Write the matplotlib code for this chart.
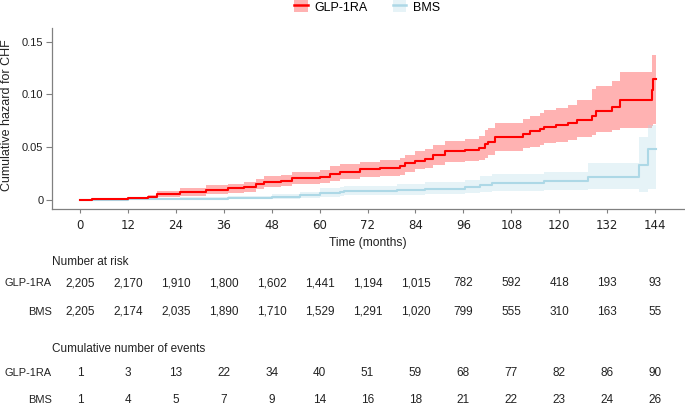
import matplotlib
matplotlib.use('Agg')

import matplotlib.pyplot as plt
from matplotlib.patches import Patch
from matplotlib.lines import Line2D
from matplotlib.transforms import blended_transform_factory

plt.rcParams['font.family'] = ['Liberation Sans', 'DejaVu Sans']

# step curves: time (months), hazard, lower and upper CI
glp_t = [0, 3, 12, 17, 19.3, 25, 31.6, 37, 41, 44, 46, 50.4, 53, 60, 62.5, 65,
         70, 75, 80, 81.3, 84, 86.3, 88.3, 91.3, 96.3, 100, 101.4, 102.2, 103.9,
         111, 112.6, 115.2, 116.2, 119.3, 122.3, 124.4, 128.1, 129.2, 133.1,
         135.2, 143.2, 143.6, 144.3]
glp_h = [0, 0.0005, 0.0015, 0.003, 0.006, 0.0075, 0.0095, 0.011, 0.0125, 0.015,
         0.017, 0.018, 0.0205, 0.022, 0.025, 0.027, 0.029, 0.030, 0.032, 0.035,
         0.037, 0.039, 0.0425, 0.046, 0.047, 0.049, 0.053, 0.055, 0.060, 0.063,
         0.065, 0.067, 0.069, 0.071, 0.073, 0.076, 0.080, 0.084, 0.0885, 0.095,
         0.104, 0.115, 0.115]
glp_lo = [0, 0.0001, 0.0004, 0.001, 0.003, 0.004, 0.006, 0.007, 0.008, 0.010,
          0.012, 0.013, 0.015, 0.016, 0.018, 0.020, 0.022, 0.023, 0.024, 0.027,
          0.029, 0.030, 0.033, 0.036, 0.037, 0.038, 0.040, 0.043, 0.046, 0.049,
          0.050, 0.052, 0.054, 0.055, 0.057, 0.060, 0.062, 0.064, 0.066, 0.068,
          0.070, 0.072, 0.072]
glp_hi = [0, 0.002, 0.003, 0.005, 0.009, 0.011, 0.014, 0.015, 0.017, 0.020,
          0.023, 0.024, 0.027, 0.028, 0.032, 0.034, 0.036, 0.038, 0.040, 0.043,
          0.046, 0.048, 0.052, 0.056, 0.058, 0.061, 0.066, 0.068, 0.073, 0.077,
          0.080, 0.082, 0.085, 0.0875, 0.090, 0.095, 0.105, 0.108, 0.113, 0.1215,
          0.137, 0.137, 0.137]

bms_t = [0, 12, 25, 37, 48, 55, 60, 65, 66, 79.3, 86.3, 96.3, 100.1, 103.1,
         116.2, 127.2, 140, 142.3, 144.3]
bms_h = [0, 0.0005, 0.001, 0.0015, 0.003, 0.0047, 0.0066, 0.0075, 0.0085,
         0.0095, 0.0107, 0.012, 0.014, 0.0158, 0.018, 0.022, 0.033, 0.048, 0.048]
bms_lo = [0, 0.0001, 0.0003, 0.0005, 0.001, 0.002, 0.003, 0.004, 0.0045, 0.005,
          0.006, 0.007, 0.008, 0.009, 0.0095, 0.0105, 0.008, 0.0105, 0.0105]
bms_hi = [0.001, 0.002, 0.003, 0.004, 0.006, 0.008, 0.011, 0.012, 0.013, 0.015,
          0.017, 0.019, 0.023, 0.025, 0.027, 0.035, 0.060, 0.071, 0.071]

# risk table
table_months = [0, 12, 24, 36, 48, 60, 72, 84, 96, 108, 120, 132, 144]
risk_glp = ['2,205', '2,170', '1,910', '1,800', '1,602', '1,441', '1,194',
            '1,015', '782', '592', '418', '193', '93']
risk_bms = ['2,205', '2,174', '2,035', '1,890', '1,710', '1,529', '1,291',
            '1,020', '799', '555', '310', '163', '55']
events_glp = [1, 3, 13, 22, 34, 40, 51, 59, 68, 77, 82, 86, 90]
events_bms = [1, 4, 5, 7, 9, 14, 16, 18, 21, 22, 23, 24, 26]

red = '#ff0000'
blue = '#add8e6'
grey = '#808080'

fig = plt.figure(figsize=(6.85, 4.07), dpi=100)
ax = fig.add_axes([0.0755, 0.4865, 0.9245, 0.444])

ax.fill_between(glp_t, glp_lo, glp_hi, step='post', color=red, alpha=0.3, lw=0)
ax.fill_between(bms_t, bms_lo, bms_hi, step='post', color=blue, alpha=0.3, lw=0)
ax.step(bms_t, bms_h, where='post', color=blue, lw=1.5)
ax.step(glp_t, glp_h, where='post', color=red, lw=1.5)

ax.set_xlim(-7.1, 151.5)
ax.set_ylim(-0.0085, 0.1627)
ax.set_xticks(table_months)
ax.set_yticks([0, 0.05, 0.10, 0.15])
ax.set_yticklabels(['0', '0.05', '0.10', '0.15'], fontsize=8)
ax.set_xticklabels([str(m) for m in table_months], fontsize=8.5,
                   family=['Liberation Sans Narrow', 'DejaVu Sans'])
ax.tick_params(axis='x', length=3, width=0.8, color=grey, pad=4, labelcolor='#222222')
ax.tick_params(axis='y', length=4, width=0.8, color=grey, pad=2, labelcolor='#222222')
for s in ['top', 'right']:
    ax.spines[s].set_visible(False)
for s in ['left', 'bottom']:
    ax.spines[s].set_color(grey)
    ax.spines[s].set_linewidth(0.9)

fig.text(7 / 685, 1 - 115 / 407, 'Cumulative hazard for CHF', rotation=90,
         ha='center', va='center', fontsize=9, color='#222222')
fig.text(368 / 685, 1 - 242.7 / 407, 'Time (months)', ha='center', va='center',
         fontsize=8.7, color='#222222')

handles = [(Patch(facecolor=red, alpha=0.3, lw=0), Line2D([], [], color=red, lw=1.8)),
           (Patch(facecolor=blue, alpha=0.3, lw=0), Line2D([], [], color=blue, lw=1.8))]
fig.legend(handles, ['GLP-1RA', 'BMS'], loc='center', bbox_to_anchor=(0.536, 0.983),
           ncol=2, frameon=False, fontsize=9, handlelength=1.1, handleheight=1.1,
           handletextpad=0.5, columnspacing=2.0)

# tables below the plot, x from the data axis
tr = blended_transform_factory(ax.transData, fig.transFigure)
row_x = 51.7 / 685
txt = dict(fontsize=8.5, color='#222222', va='center')
lab = dict(fontsize=7.9, color='#222222', va='center', ha='right')


def fy(px):
    return 1 - px / 407


fig.text(52 / 685, fy(262), 'Number at risk', ha='left', **txt)
fig.text(row_x, fy(283), 'GLP-1RA', **lab)
fig.text(row_x, fy(311.7), 'BMS', **lab)
for m, a, b in zip(table_months, risk_glp, risk_bms):
    ax.text(m, fy(283), a, transform=tr, ha='center', **txt)
    ax.text(m, fy(311.7), b, transform=tr, ha='center', **txt)

fig.text(52 / 685, fy(349), 'Cumulative number of events', ha='left', **txt)
fig.text(row_x, fy(373.3), 'GLP-1RA', **lab)
fig.text(row_x, fy(400), 'BMS', **lab)
for m, a, b in zip(table_months, events_glp, events_bms):
    ax.text(m, fy(373.3), str(a), transform=tr, ha='center', **txt)
    ax.text(m, fy(400), str(b), transform=tr, ha='center', **txt)

fig.savefig('out.png', dpi=100)
plt.close(fig)
